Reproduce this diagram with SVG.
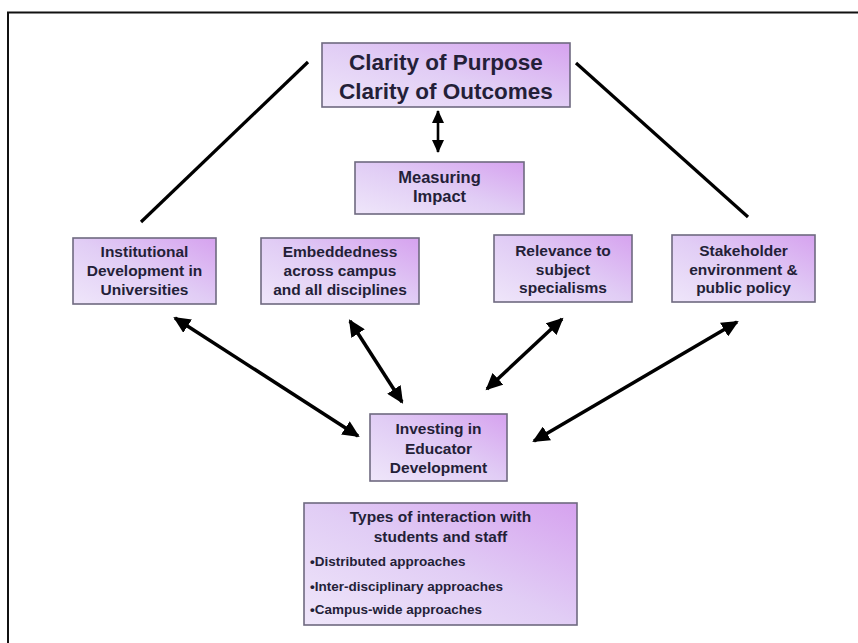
<svg xmlns="http://www.w3.org/2000/svg" width="858" height="643" viewBox="0 0 858 643">
<defs>
<linearGradient id="boxfill" x1="0" y1="1" x2="1" y2="0">
<stop offset="0" stop-color="#efe6fa"/>
<stop offset="0.5" stop-color="#e1cdf5"/>
<stop offset="1" stop-color="#d6a2ef"/>
</linearGradient>
<marker id="ah" markerUnits="userSpaceOnUse" markerWidth="18" markerHeight="16" refX="15" refY="8" orient="auto-start-reverse" viewBox="0 0 18 16">
<path d="M0,0 L17,8 L0,16 Z" fill="#000"/>
</marker>
<marker id="ahs" markerUnits="userSpaceOnUse" markerWidth="14" markerHeight="12" refX="12" refY="6" orient="auto-start-reverse" viewBox="0 0 14 12">
<path d="M0,0 L13,6 L0,12 Z" fill="#000"/>
</marker>
<style>
.box{fill:url(#boxfill);stroke:#6f6a80;stroke-width:1.6}
.t{font-family:"Liberation Sans",Arial,sans-serif;font-weight:bold;fill:#241f38;text-anchor:middle}
.big{font-size:22.5px}
.mid{font-size:16.5px}
.sm{font-size:15.5px}
.bul{font-family:"Liberation Sans",Arial,sans-serif;font-weight:bold;fill:#241f38;font-size:13.5px}
.ln{stroke:#000;stroke-width:3.2;fill:none}
.ar{stroke:#000;stroke-width:3.5;fill:none;marker-start:url(#ah);marker-end:url(#ah)}
</style>
</defs>
<rect width="858" height="643" fill="#fff"/>
<rect x="8" y="12.5" width="900" height="700" fill="none" stroke="#111" stroke-width="2"/>

<g id="connectors">
<line class="ln" x1="308" y1="62" x2="141" y2="222"/>
<line class="ln" x1="576" y1="63" x2="748" y2="217"/>
<line x1="438" y1="111" x2="438" y2="152" stroke="#000" stroke-width="2.6" marker-start="url(#ahs)" marker-end="url(#ahs)"/>
<line class="ar" x1="175" y1="318" x2="358" y2="436"/>
<line class="ar" x1="350" y1="321" x2="402" y2="402"/>
<line class="ar" x1="562" y1="319" x2="487" y2="389"/>
<line class="ar" x1="737" y1="322" x2="534" y2="441"/>
</g>

<g id="clarity">
<rect class="box" x="322" y="43" width="248" height="64"/>
<text class="t big" x="446" y="70">Clarity of Purpose</text>
<text class="t big" x="446" y="99">Clarity of Outcomes</text>
</g>

<g id="measuring">
<rect class="box" x="355" y="162" width="169" height="52"/>
<text class="t mid" x="439.5" y="183">Measuring</text>
<text class="t mid" x="439.5" y="202">Impact</text>
</g>

<g id="institutional">
<rect class="box" x="73" y="238" width="143" height="66"/>
<text class="t sm" x="144.5" y="257">Institutional</text>
<text class="t sm" x="144.5" y="276">Development in</text>
<text class="t sm" x="144.5" y="295">Universities</text>
</g>

<g id="embeddedness">
<rect class="box" x="261" y="238" width="158" height="66"/>
<text class="t sm" x="340" y="257">Embeddedness</text>
<text class="t sm" x="340" y="276">across campus</text>
<text class="t sm" x="340" y="295">and all disciplines</text>
</g>

<g id="relevance">
<rect class="box" x="494" y="235" width="138" height="67"/>
<text class="t sm" x="563" y="256">Relevance to</text>
<text class="t sm" x="563" y="275">subject</text>
<text class="t sm" x="563" y="293">specialisms</text>
</g>

<g id="stakeholder">
<rect class="box" x="672" y="235" width="143" height="67"/>
<text class="t sm" x="743.5" y="256">Stakeholder</text>
<text class="t sm" x="743.5" y="275">environment &amp;</text>
<text class="t sm" x="743.5" y="293">public policy</text>
</g>

<g id="investing">
<rect class="box" x="370" y="414" width="137" height="67"/>
<text class="t sm" x="438.5" y="434">Investing in</text>
<text class="t sm" x="438.5" y="454">Educator</text>
<text class="t sm" x="438.5" y="473">Development</text>
</g>

<g id="types">
<rect class="box" x="304" y="503" width="273" height="122"/>
<text class="t sm" x="440.5" y="522">Types of interaction with</text>
<text class="t sm" x="440.5" y="542">students and staff</text>
<text class="bul" x="310" y="566">•Distributed approaches</text>
<text class="bul" x="310" y="591">•Inter-disciplinary approaches</text>
<text class="bul" x="310" y="614">•Campus-wide approaches</text>
</g>
</svg>
